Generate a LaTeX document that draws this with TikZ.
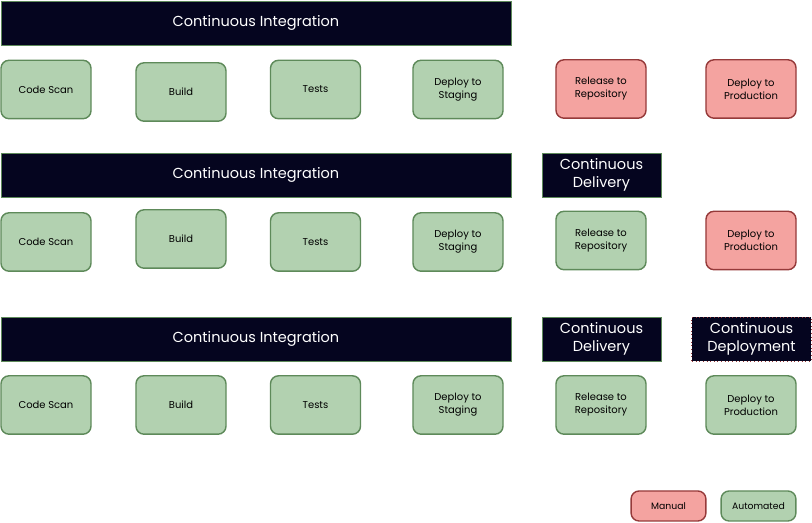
\documentclass[tikz,border=0pt]{standalone}
\usepackage{fontspec}
\setmainfont{Poppins}
\usetikzlibrary{positioning}
\definecolor{autofill}{HTML}{B2D1B0}
\definecolor{autoline}{HTML}{5E8A5A}
\definecolor{manfill}{HTML}{F4A3A0}
\definecolor{manline}{HTML}{963A3A}
\definecolor{stagefill}{HTML}{05051F}
\tikzset{stage/.style={rounded corners=0.2cm,line width=1pt,minimum width=2.25cm,minimum height=1.46cm,align=center,font=\fontsize{7.1}{9.2}\selectfont,inner sep=1pt}}
\tikzset{auto/.style={stage,draw=autoline,fill=autofill}}
\tikzset{manual/.style={stage,draw=manline,fill=manfill}}
\tikzset{banner/.style={draw=autoline,line width=0.4pt,fill=stagefill,text=white,minimum height=1.1cm,align=center,font=\fontsize{10.3}{12.8}\selectfont,inner sep=1pt}}
\tikzset{legend/.style={minimum width=1.87cm,minimum height=0.75cm,font=\fontsize{6.6}{8}\selectfont}}

\begin{document}
\begin{tikzpicture}[x=0.025cm,y=-0.025cm]

	\useasboundingbox (0,0) rectangle (812,523);

	%% Row 1: integration only
	\node[banner,minimum width=12.75cm] (ci1) at (256,23) {Continuous Integration};
	\node[auto] (scan1) at (46,89.5) {Code Scan};
	\node[auto] (build1) at (181,92) {Build};
	\node[auto] (tests1) at (315.5,89.5) {Tests};
	\node[auto] (staging1) at (458,89.5) {Deploy to\\Staging};
	\node[manual] (release1) at (601,89) {Release to\\Repository};
	\node[manual] (prod1) at (751,89) {Deploy to\\Production};

	%% Row 2: delivery
	\node[banner,minimum width=12.75cm] (ci2) at (256,175) {Continuous Integration};
	\node[banner,minimum width=2.98cm] (cd2) at (601.5,175) {Continuous\\Delivery};
	\node[auto] (scan2) at (46,242) {Code Scan};
	\node[auto] (build2) at (181,239) {Build};
	\node[auto] (tests2) at (315.5,242) {Tests};
	\node[auto] (staging2) at (458,242) {Deploy to\\Staging};
	\node[auto] (release2) at (601,240.5) {Release to\\Repository};
	\node[manual] (prod2) at (751,240.5) {Deploy to\\Production};

	%% Row 3: deployment
	\node[banner,minimum width=12.75cm] (ci3) at (256,339) {Continuous Integration};
	\node[banner,minimum width=2.98cm] (cd3) at (601.5,339) {Continuous\\Delivery};
	\node[banner,minimum width=2.98cm,draw=manline,line width=0.6pt,dotted] (cdep3) at (751.5,339) {Continuous\\Deployment};
	\node[auto] (scan3) at (46,405) {Code Scan};
	\node[auto] (build3) at (181,405) {Build};
	\node[auto] (tests3) at (315.5,405) {Tests};
	\node[auto] (staging3) at (458,405) {Deploy to\\Staging};
	\node[auto] (release3) at (601,405) {Release to\\Repository};
	\node[auto] (prod3) at (751,405) {Deploy to\\Production};

	%% Legend
	\node[manual,legend] (manual) at (668.5,506) {Manual};
	\node[auto,legend] (automated) at (758.5,506) {Automated};

\end{tikzpicture}
\end{document}
